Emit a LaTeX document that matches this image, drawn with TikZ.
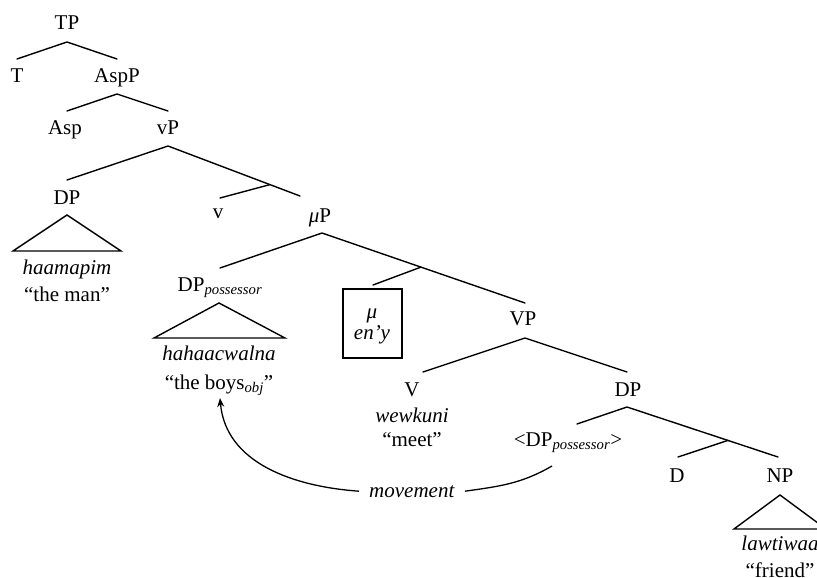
\documentclass[tikz,border=0pt]{standalone}
\usepackage{fontspec}
\setmainfont{Liberation Serif}
\usetikzlibrary{arrows.meta}
\tikzset{
  lbl/.style={inner sep=0pt, anchor=base, font=\fontsize{21}{25}\selectfont},
  edge/.style={line width=1.4pt, line cap=round},
  tri/.style={line width=1.4pt, line join=miter},
  mbox/.style={draw, line width=1.4pt, minimum width=59pt, minimum height=69pt, inner sep=0pt},
}
\begin{document}
\begin{tikzpicture}[x=1pt,y=-1pt]
\useasboundingbox (0,0) rectangle (817,578);
% labels
\node[lbl] (TP) at (67,30) {TP};
\node[lbl] (T) at (17,82) {T};
\node[lbl] (AspP) at (117,82) {AspP};
\node[lbl] (Asp) at (65,134) {Asp};
\node[lbl] (vP) at (168,134) {vP};
\node[lbl] (DPa) at (67,204) {DP};
\node[lbl] (haamapim) at (67,274) {\textit{haamapim}};
\node[lbl] (theman) at (67,301) {“the man”};
\node[lbl] (v) at (218,218) {v};
\node[lbl] (muP) at (320,222) {\textit{μ}P};
\node[lbl] (DPposs) at (220,291) {DP\textsubscript{\textit{possessor}}};
\node[lbl] (hah) at (219,360) {\textit{hahaacwalna}};
\node[lbl] (boys) at (219,389) {“the boys\textsubscript{\textit{obj}}”};
\node[mbox] (mubox) at (372.5,323.5) {};
\node[lbl] (mu) at (372,318) {\textit{μ}};
\node[lbl] (eny) at (372,339) {\textit{en’y}};
\node[lbl] (VP) at (523,325) {VP};
\node[lbl] (V) at (412,396) {V};
\node[lbl] (wew) at (412,422) {\textit{wewkuni}};
\node[lbl] (meet) at (412,446) {“meet”};
\node[lbl] (DPb) at (628,396) {DP};
\node[lbl] (DPtrace) at (568,446) {<DP\textsubscript{\textit{possessor}}>};
\node[lbl] (D) at (677,482) {D};
\node[lbl] (NP) at (780,482) {NP};
\node[lbl] (law) at (780,550) {\textit{lawtiwaa}};
\node[lbl] (friend) at (780,577) {“friend”};
\node[lbl, inner xsep=10pt] (mov) at (412,497) {\textit{movement}};
% coordinates for branches
\coordinate (tp0) at (67,42);  \coordinate (tpL) at (17,59);  \coordinate (tpR) at (117,59);
\coordinate (asp0) at (117,94); \coordinate (aspL) at (67,111); \coordinate (aspR) at (168,111);
\coordinate (vp0) at (168,146); \coordinate (vpL) at (67,180); \coordinate (vpR) at (300,196);
\coordinate (vpJ) at (270,184.6); \coordinate (vpV) at (220,198);
\coordinate (mp0) at (322,233); \coordinate (mpL) at (220,268); \coordinate (mpR) at (525,303);
\coordinate (mpJ) at (421,267.1); \coordinate (mpM) at (373,285);
\coordinate (VP0) at (525,338); \coordinate (VPL) at (423,372); \coordinate (VPR) at (627,372);
\coordinate (db0) at (627,407); \coordinate (dbL) at (577,424); \coordinate (dbR) at (778,457);
\coordinate (dbJ) at (728,440.4); \coordinate (dbD) at (678,457);
\coordinate (t1a) at (67,215); \coordinate (t1b) at (13,251); \coordinate (t1c) at (121,251);
\coordinate (t2a) at (219,303); \coordinate (t2b) at (154,338); \coordinate (t2c) at (285,338);
\coordinate (t3a) at (780,495); \coordinate (t3b) at (734,529); \coordinate (t3c) at (826,529);
\coordinate (movS) at (552,466);
\coordinate (movT) at (220,398);
% branches
\draw[edge] (tpL) -- (tp0) -- (tpR);
\draw[edge] (aspL) -- (asp0) -- (aspR);
\draw[edge] (vpL) -- (vp0) -- (vpR);
\draw[edge] (vpJ) -- (vpV);
\draw[edge] (mpL) -- (mp0) -- (mpR);
\draw[edge] (mpJ) -- (mpM);
\draw[edge] (VPL) -- (VP0) -- (VPR);
\draw[edge] (dbL) -- (db0) -- (dbR);
\draw[edge] (dbJ) -- (dbD);
\draw[tri] (t1a) -- (t1b) -- (t1c) -- cycle;
\draw[tri] (t2a) -- (t2b) -- (t2c) -- cycle;
\draw[tri] (t3a) -- (t3b) -- (t3c) -- cycle;
% movement
\draw[line width=1.3pt] (movS) to[out=-150, in=8] (mov.east);
\draw[line width=1.3pt, -{Stealth[length=9pt,width=7pt]}] (mov.west) to[out=176, in=-85] (movT);
\end{tikzpicture}
\end{document}
